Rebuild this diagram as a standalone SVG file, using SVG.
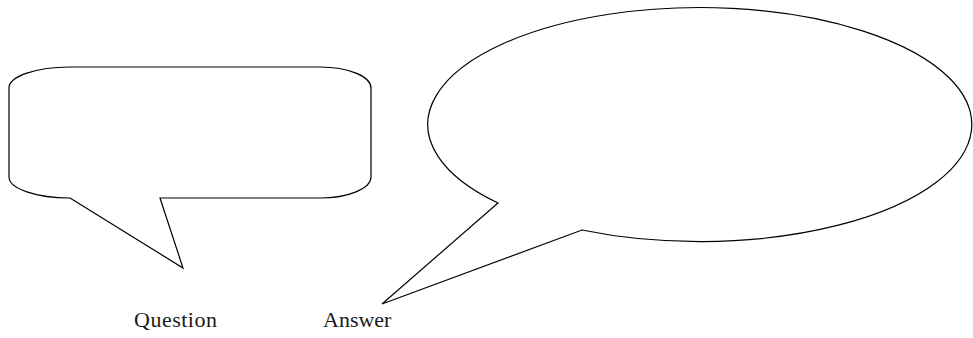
<svg xmlns="http://www.w3.org/2000/svg" width="973" height="338" viewBox="0 0 973 338">
<style>
.bubble{fill:#ffffff;stroke:#000000;stroke-width:1.2;stroke-linejoin:miter}
.lbl{font-family:"Liberation Serif","Times New Roman",serif;font-size:22px;fill:#1a1a1a}
</style>
<rect width="973" height="338" fill="#ffffff"/>
<g id="question-bubble">
<path class="bubble" d="M70,198 L183,268 L160,198 L320,198 A51,21 0 0 0 371,177 L371,88 A51,21 0 0 0 320,67 L70,67 A61,21 0 0 0 9,88 L9,177 A61,21 0 0 0 70,198 Z"/>
</g>
<g id="answer-bubble">
<path class="bubble" d="M498,203 L382,304 L582,230 A272,117 0 1 0 498,203 Z"/>
</g>
<g id="labels">
<text class="lbl" x="134" y="327" textLength="83">Question</text>
<text class="lbl" x="323" y="327">Answer</text>
</g>
</svg>
